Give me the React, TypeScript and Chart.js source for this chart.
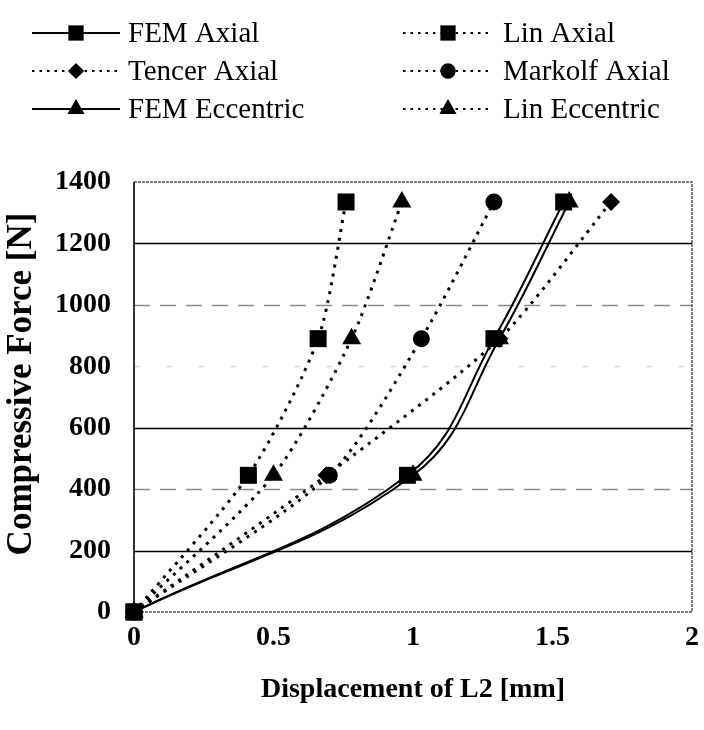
import React, { useEffect, useRef } from "react";
import { Chart, registerables } from "chart.js";

Chart.register(...registerables);

// ---- data ----
const forceLevels = [0, 445, 890, 1335];
const femAxialX = [0, 0.98, 1.29, 1.54];
const linAxialX = [0, 0.41, 0.66, 0.76];
const tencerAxialX = [0, 0.69, 1.31, 1.71];
const markolfAxialX = [0, 0.7, 1.03, 1.29];
const femEccentricX = [0, 1.0, 1.31, 1.56];
const linEccentricX = [0, 0.5, 0.78, 0.96];

const xTicks = [0, 0.5, 1, 1.5, 2];
const yTicks = [0, 200, 400, 600, 800, 1000, 1200, 1400];

const xTitle = "Displacement of L2 [mm]";
const yTitle = "Compressive Force [N]";

const SERIF = "'Liberation Serif', 'Times New Roman', serif";

type Series = {
  label: string;
  xs: number[];
  solid: boolean;
  pointStyle: string;
  radius: number;
};

const seriesList: Series[] = [
  { label: "FEM Axial", xs: femAxialX, solid: true, pointStyle: "rect", radius: 12 },
  { label: "Lin Axial", xs: linAxialX, solid: false, pointStyle: "rect", radius: 12 },
  { label: "Tencer Axial", xs: tencerAxialX, solid: false, pointStyle: "rectRot", radius: 9 },
  { label: "Markolf Axial", xs: markolfAxialX, solid: false, pointStyle: "circle", radius: 8.5 },
  { label: "FEM Eccentric", xs: femEccentricX, solid: true, pointStyle: "triangle", radius: 11 },
  { label: "Lin Eccentric", xs: linEccentricX, solid: false, pointStyle: "triangle", radius: 11 },
];

// legend layout: column, row
const legendSlots: Record<string, [number, number]> = {
  "FEM Axial": [0, 0],
  "Tencer Axial": [0, 1],
  "FEM Eccentric": [0, 2],
  "Lin Axial": [1, 0],
  "Markolf Axial": [1, 1],
  "Lin Eccentric": [1, 2],
};

function drawMarker(ctx: CanvasRenderingContext2D, style: string, x: number, y: number, r: number) {
  ctx.beginPath();
  if (style === "rect") {
    const s = r * Math.SQRT1_2;
    ctx.rect(x - s, y - s, 2 * s, 2 * s);
  } else if (style === "rectRot") {
    ctx.moveTo(x - r, y);
    ctx.lineTo(x, y - r);
    ctx.lineTo(x + r, y);
    ctx.lineTo(x, y + r);
    ctx.closePath();
  } else if (style === "circle") {
    ctx.arc(x, y, r, 0, Math.PI * 2);
  } else if (style === "triangle") {
    for (let i = 0; i < 3; i++) {
      const a = (i * 2 * Math.PI) / 3;
      const px = x + Math.sin(a) * r;
      const py = y - Math.cos(a) * r;
      if (i === 0) ctx.moveTo(px, py);
      else ctx.lineTo(px, py);
    }
    ctx.closePath();
  }
  ctx.fillStyle = "#000";
  ctx.fill();
}

const legendPlugin = {
  id: "customLegend",
  afterDraw(chart: any) {
    const ctx: CanvasRenderingContext2D = chart.ctx;
    const cols = [
      { x0: 32, x1: 120, text: 128 },
      { x0: 403, x1: 493, text: 503 },
    ];
    const rows = [33, 71, 109];
    ctx.save();
    seriesList.forEach((s) => {
      const [c, r] = legendSlots[s.label];
      const col = cols[c];
      const y = rows[r];
      ctx.beginPath();
      ctx.strokeStyle = "#000";
      ctx.lineWidth = 2;
      ctx.setLineDash(s.solid ? [] : [2.5, 5]);
      ctx.moveTo(col.x0, y);
      ctx.lineTo(col.x1, y);
      ctx.stroke();
      ctx.setLineDash([]);
      drawMarker(ctx, s.pointStyle, (col.x0 + col.x1) / 2, y, s.radius * 0.9);
      ctx.font = `29px ${SERIF}`;
      ctx.fillStyle = "#000";
      ctx.textBaseline = "middle";
      ctx.textAlign = "left";
      ctx.fillText(s.label, col.text, y + 1);
    });
    // y axis title (drawn slightly above the plot centre as in the reference)
    ctx.save();
    ctx.translate(22, 384);
    ctx.rotate(-Math.PI / 2);
    ctx.font = `bold 35px ${SERIF}`;
    ctx.textAlign = "center";
    ctx.textBaseline = "middle";
    ctx.fillText(yTitle, 0, 0);
    ctx.restore();
    ctx.restore();
  },
};

const gridStyles: Record<number, { color: string; dash: number[] }> = {
  200: { color: "#000", dash: [] },
  400: { color: "#8a8a8a", dash: [16, 10] },
  600: { color: "#000", dash: [] },
  800: { color: "#d8d8d8", dash: [6, 26] },
  1000: { color: "#8a8a8a", dash: [16, 10] },
  1200: { color: "#000", dash: [] },
};

const framePlugin = {
  id: "frame",
  beforeDatasetsDraw(chart: any) {
    const ctx: CanvasRenderingContext2D = chart.ctx;
    const { left, right, top, bottom } = chart.chartArea;
    const ys = chart.scales.y;
    ctx.save();
    ctx.lineWidth = 1.3;
    yTicks.forEach((v) => {
      const st = gridStyles[v];
      if (!st) return;
      const py = Math.round(ys.getPixelForValue(v)) + 0.5;
      ctx.beginPath();
      ctx.strokeStyle = st.color;
      ctx.setLineDash(st.dash);
      ctx.moveTo(left, py);
      ctx.lineTo(right, py);
      ctx.stroke();
    });
    ctx.setLineDash([]);
    ctx.strokeStyle = "#555";
    ctx.lineWidth = 1.5;
    ctx.setLineDash([3, 1]);
    ctx.beginPath();
    ctx.moveTo(left, top);
    ctx.lineTo(right, top);
    ctx.lineTo(right, bottom);
    ctx.lineTo(left, bottom);
    ctx.stroke();
    ctx.setLineDash([]);
    ctx.strokeStyle = "#000";
    ctx.lineWidth = 1.6;
    ctx.beginPath();
    ctx.moveTo(left, top);
    ctx.lineTo(left, bottom);
    ctx.stroke();
    ctx.restore();
  },
};

export default function App() {
  const ref = useRef<HTMLCanvasElement>(null);

  useEffect(() => {
    const datasets = seriesList.map((s) => ({
      label: s.label,
      data: s.xs.map((x, i) => ({ x, y: forceLevels[i] })),
      borderColor: "#000",
      backgroundColor: "#000",
      borderWidth: s.solid ? 2 : 3,
      borderDash: s.solid ? [] : [3, 6],
      borderCapStyle: "butt",
      tension: s.solid ? 0.4 : 0.25,
      pointStyle: s.pointStyle,
      pointRadius: s.radius,
      pointBorderWidth: 0,
      pointBackgroundColor: "#000",
      pointBorderColor: "#000",
      fill: false,
      clip: false,
    }));

    const chart = new Chart(ref.current!, {
      type: "line",
      data: { datasets: datasets as any },
      options: {
        animation: false,
        responsive: false,
        devicePixelRatio: 1,
        layout: { padding: { top: 182, right: 9, left: 0, bottom: 0 } },
        plugins: {
          legend: { display: false },
          tooltip: { enabled: false },
        },
        scales: {
          x: {
            type: "linear",
            min: 0,
            max: 2,
            afterBuildTicks: (axis: any) => {
              axis.ticks = xTicks.map((v) => ({ value: v }));
            },
            afterFit: (axis: any) => {
              axis.height = 118;
              axis.paddingLeft = 0;
              axis.paddingRight = 0;
            },
            grid: { display: false, drawTicks: false },
            border: { display: false },
            ticks: {
              padding: 9,
              color: "#000",
              font: { family: SERIF, size: 28, weight: "bold" },
              callback: (v: any) => String(v),
            },
            title: {
              display: true,
              text: xTitle,
              color: "#000",
              font: { family: SERIF, size: 28, weight: "bold" },
              padding: { top: 0, bottom: 23 },
            },
          },
          y: {
            type: "linear",
            min: 0,
            max: 1400,
            afterBuildTicks: (axis: any) => {
              axis.ticks = yTicks.map((v) => ({ value: v }));
            },
            afterFit: (axis: any) => {
              axis.width = 134;
            },
            grid: { display: false, drawTicks: false },
            border: { display: false },
            ticks: {
              padding: 23,
              color: "#000",
              font: { family: SERIF, size: 28, weight: "bold" },
              callback: (v: any) => String(v),
            },
            title: { display: false },
          },
        },
      } as any,
      plugins: [framePlugin, legendPlugin],
    });
    return () => chart.destroy();
  }, []);

  return (
    <div style={{ position: "fixed", left: 0, top: 0, width: 704, height: 730, background: "#fff" }}>
      <canvas ref={ref} width={704} height={730} style={{ display: "block" }} />
    </div>
  );
}
